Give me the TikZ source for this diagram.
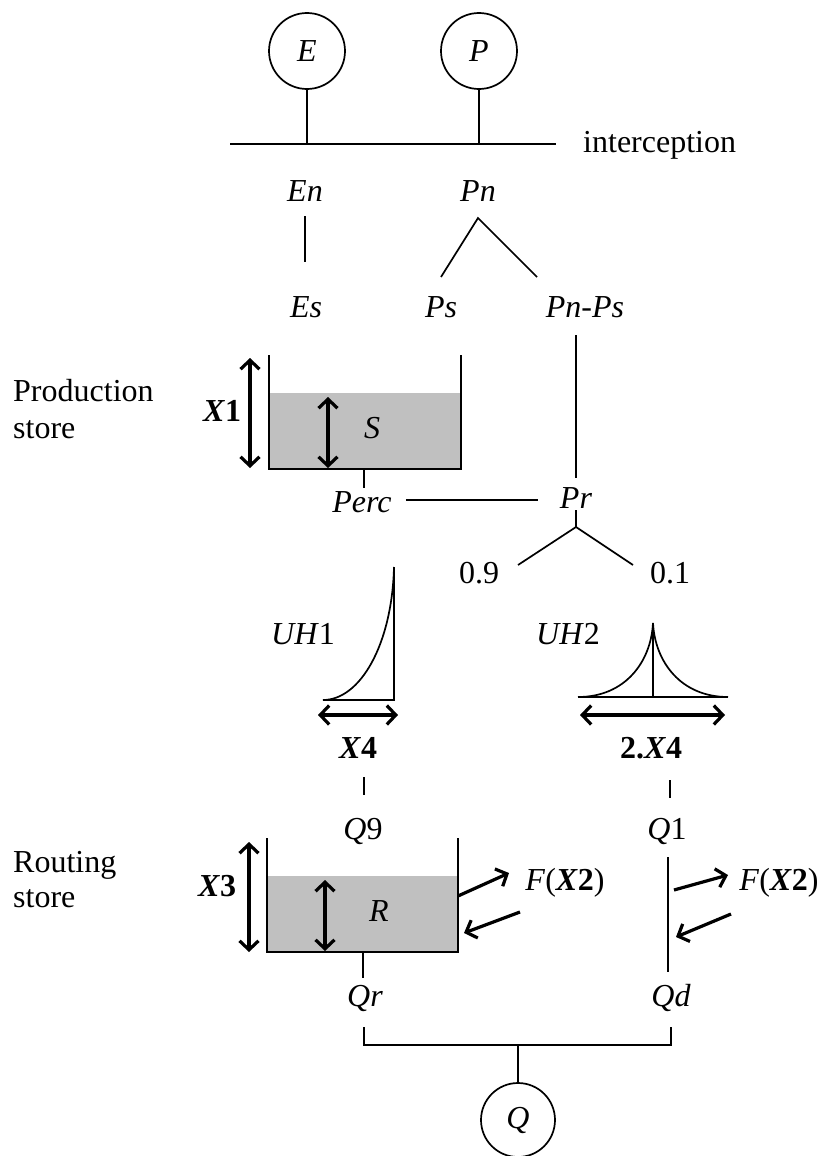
\documentclass[tikz,border=0pt]{standalone}
\usepackage{fontspec}
\setmainfont{Liberation Serif}
\usetikzlibrary{arrows.meta}
\definecolor{water}{HTML}{C0C0C0}
\begin{document}
\begin{tikzpicture}[x=1pt,y=-1pt,
  every node/.style={font=\fontsize{32}{36}\selectfont, inner sep=0pt},
  ln/.style={line width=1.7pt},
  thk/.style={line width=3.2pt},
  dbl/.style={thk, {Straight Barb[length=9pt,width=19pt]}-{Straight Barb[length=9pt,width=19pt]}},
  sgl/.style={thk, -{Straight Barb[length=9pt,width=19pt]}},
  circ/.style={circle, draw, line width=1.7pt, minimum size=76pt},
]
\useasboundingbox (0,0) rectangle (819,1156);
\fill[white] (0,0) rectangle (819,1156);

% inputs and interception
\node[circ] (E) at (307,51) {\textit{E}};
\node[circ] (P) at (479,51) {\textit{P}};
\coordinate (iL) at (230,144);
\coordinate (iR) at (556,144);
\draw[ln] (iL) -- (iR);
\draw[ln] (E.south) -- (E.south |- iL);
\draw[ln] (P.south) -- (P.south |- iL);
\node[anchor=base west] (icp) at (583,152) {interception};

\node (En) at (305,191) {\textit{En}};
\node (Pn) at (478,191) {\textit{Pn}};
\coordinate (en1) at (305,216);
\coordinate (en2) at (305,262);
\draw[ln] (en1) -- (en2);
\coordinate (pnA) at (478,218);
\coordinate (pnL) at (441,277);
\coordinate (pnR) at (537,277);
\draw[ln] (pnL) -- (pnA) -- (pnR);

\node (Es) at (306,307) {\textit{Es}};
\node (Ps) at (441,307) {\textit{Ps}};
\node (PnPs) at (585,307) {\textit{Pn-Ps}};

% production store
\node[anchor=base west] (prod1) at (13,401) {Production};
\node[anchor=base west] (prod2) at (13,438) {store};
\coordinate (ptl) at (269,355);
\coordinate (ptr) at (461,355);
\coordinate (pbl) at (269,469);
\coordinate (pbr) at (461,469);
\fill[water] (269,393) rectangle (pbr);
\draw[ln] (ptl) -- (pbl) -- (pbr) -- (ptr);
\draw[dbl] (250,358) coordinate (x1t) -- (250,468) coordinate (x1b);
\node (X1) at (222,411) {\textbf{\textit{X}1}};
\draw[dbl] (328,397) coordinate (st) -- (328,468) coordinate (sb);
\node (S) at (372,428) {\textit{S}};
\coordinate (pst) at (364,469);
\coordinate (psb) at (364,488);
\draw[ln] (pst) -- (psb);
\node (Perc) at (362,502) {\textit{Perc}};
\node (Pr) at (576,498) {\textit{Pr}};
\draw[ln] (Perc.east) ++(14,-2) coordinate (pc1) -- (538,500) coordinate (pc2);
\coordinate (pp1) at (576,335);
\coordinate (pp2) at (576,478);
\draw[ln] (pp1) -- (pp2);
\coordinate (prs) at (576,510);
\coordinate (prA) at (576,527);
\coordinate (prL) at (518,565);
\coordinate (prR) at (633,565);
\draw[ln] (prs) -- (prA);
\draw[ln] (prL) -- (prA) -- (prR);
\node (n09) at (479,573) {0.9};
\node (n01) at (670,573) {0.1};

% UH1
\node (UH1) at (303,634) {\textit{UH}1};
\coordinate (u1t) at (394,567);
\coordinate (u1b) at (394,700);
\coordinate (u1l) at (323,700);
\draw[ln] (u1t) -- (u1b) -- (u1l) .. controls (360,700) and (392,645) .. (u1t);
\draw[dbl] (318,715) coordinate (x4l) -- (398,715) coordinate (x4r);
\node (X4) at (358,748) {\textbf{\textit{X}4}};

% UH2
\node (UH2) at (568,634) {\textit{UH}2};
\coordinate (u2t) at (653,623);
\coordinate (u2c) at (653,697);
\coordinate (u2l) at (578,697);
\coordinate (u2r) at (728,697);
\draw[ln] (u2l) -- (u2r);
\draw[ln] (u2t) -- (u2c);
\draw[ln] (u2l) .. controls (625,697) and (651,662) .. (u2t);
\draw[ln] (u2r) .. controls (681,697) and (655,662) .. (u2t);
\draw[dbl] (580,715) coordinate (x24l) -- (725,715) coordinate (x24r);
\node (X24) at (651,748) {\textbf{2.\textit{X}4}};

% to routing
\draw[ln] (364,777) coordinate (q9a) -- (364,795) coordinate (q9b);
\draw[ln] (670,780) coordinate (q1a) -- (670,798) coordinate (q1b);
\node (Q9) at (363,831) {\textit{Q}9};
\node (Q1) at (667,831) {\textit{Q}1};

% routing store
\node[anchor=base west] (rout1) at (13,872) {Routing};
\node[anchor=base west] (rout2) at (13,907) {store};
\coordinate (rtl) at (267,838);
\coordinate (rtr) at (458,838);
\coordinate (rbl) at (267,952);
\coordinate (rbr) at (458,952);
\fill[water] (267,876) rectangle (rbr);
\draw[ln] (rtl) -- (rbl) -- (rbr) -- (rtr);
\draw[dbl] (249,842) coordinate (x3t) -- (249,952) coordinate (x3b);
\node (X3) at (217,886) {\textbf{\textit{X}3}};
\draw[dbl] (325,880) coordinate (rt) -- (325,951) coordinate (rb);
\node (R) at (379,911) {\textit{R}};

\node (F1) at (565,883) {\textit{F}(\textbf{\textit{X}2})};
\draw[sgl] (458,896) coordinate (f1a) -- (509,873) coordinate (f1b);
\draw[sgl] (520,912) coordinate (f1c) -- (464,933) coordinate (f1d);

\draw[ln] (668,857) coordinate (dq1) -- (668,972) coordinate (dq2);
\node (F2) at (779,883) {\textit{F}(\textbf{\textit{X}2})};
\draw[sgl] (674,890) coordinate (f2a) -- (728,875) coordinate (f2b);
\draw[sgl] (731,914) coordinate (f2c) -- (676,937) coordinate (f2d);

\draw[ln] (363,952) coordinate (qra) -- (363,978) coordinate (qrb);
\node (Qr) at (365,998) {\textit{Qr}};
\node (Qd) at (671,998) {\textit{Qd}};

% outlet
\node[circ, minimum size=74pt] (Q) at (518,1120) {\textit{Q}};
\coordinate (b1) at (364,1027);
\coordinate (b2) at (671,1027);
\coordinate (bl) at (364,1045);
\coordinate (br) at (671,1045);
\coordinate (bc) at (518,1045);
\draw[ln] (b1) -- (bl) -- (br) -- (b2);
\draw[ln] (bc) -- (Q.north);
\end{tikzpicture}
\end{document}
